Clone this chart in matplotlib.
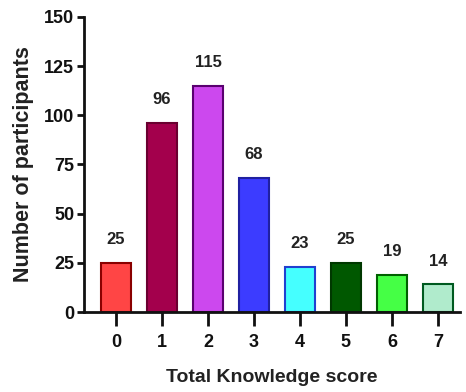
import numpy as np
import matplotlib.pyplot as plt

plt.rcParams['font.family'] = ['Liberation Sans', 'DejaVu Sans']
plt.rcParams['font.weight'] = 'bold'

# Participants per total knowledge score
scores = ['0', '1', '2', '3', '4', '5', '6', '7']
participants = [25, 96, 115, 68, 23, 25, 19, 14]
face_colors = ['#ff4545', '#a3004c', '#cc48ee', '#3c3cff',
               '#45ffff', '#005800', '#45ff45', '#b0ebcc']
edge_colors = ['#8a0000', '#6a0030', '#5a0070', '#2020a0',
               '#2040d0', '#003800', '#006000', '#005a20']

fig = plt.figure(figsize=(4.66, 3.92), dpi=100)
ax = fig.add_axes([0.180, 0.204, 0.807, 0.753])

x = np.arange(len(scores))
bars = ax.bar(x, participants, width=0.65, color=face_colors,
              edgecolor=edge_colors, linewidth=1.5)

for xi, v in zip(x, participants):
    ax.text(xi, v + 8, str(v), ha='center', va='bottom',
            fontsize=12, fontweight='bold', color='#222222')

ax.set_xlim(-0.7, 7.48)
ax.set_ylim(0, 150)
ax.set_yticks([0, 25, 50, 75, 100, 125, 150])
ax.set_xticks(x)
ax.set_xticklabels(scores)

for s in ['top', 'right']:
    ax.spines[s].set_visible(False)
for s in ['left', 'bottom']:
    ax.spines[s].set_linewidth(2)
    ax.spines[s].set_color('#111111')

ax.tick_params(axis='y', direction='out', length=5, width=2,
               labelsize=13, pad=2, colors='#111111')
ax.tick_params(axis='x', direction='out', length=10, width=2,
               labelsize=13, pad=6, colors='#111111')

ax.set_xlabel('Total Knowledge score', fontsize=14, fontweight='bold',
              color='#222222', labelpad=13)
ax.set_ylabel('Number of participants', fontsize=15.5, fontweight='bold',
              color='#222222', labelpad=7)

fig.savefig('out.png', dpi=100)
